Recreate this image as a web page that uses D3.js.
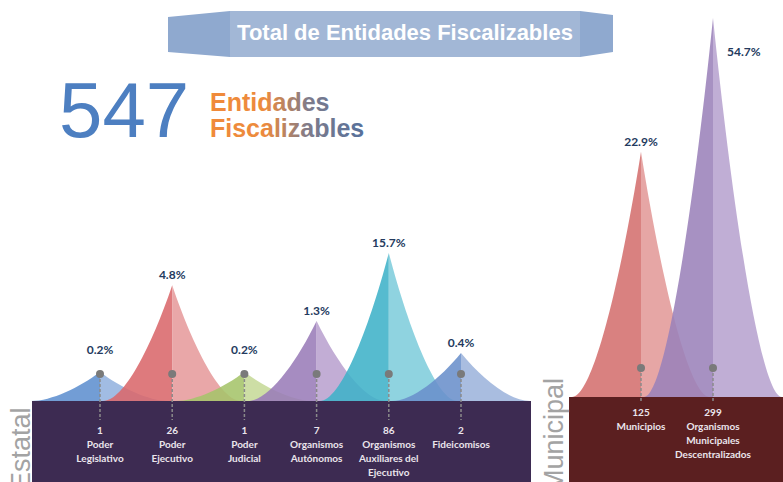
<!DOCTYPE html>
<html>
<head>
<meta charset="utf-8">
<title>Total de Entidades Fiscalizables</title>
<script src="https://d3js.org/d3.v7.min.js"></script>
<style>
  body { margin: 0; padding: 0; background: #fff; overflow: hidden; }
  svg { display: block; }
</style>
</head>
<body>
<script>
// data
var total = 547;

var estatalNames = [
  ["Poder", "Legislativo"],
  ["Poder", "Ejecutivo"],
  ["Poder", "Judicial"],
  ["Organismos", "Autónomos"],
  ["Organismos", "Auxiliares del", "Ejecutivo"],
  ["Fideicomisos"]
];
var estatalCounts = [1, 26, 1, 7, 86, 2];
var estatalPct = [0.2, 4.8, 0.2, 1.3, 15.7, 0.4];

var municipalNames = [
  ["Municipios"],
  ["Organismos", "Municipales", "Descentralizados"]
];
var municipalCounts = [125, 299];
var municipalPct = [22.9, 54.7];

var estatalColors = [
  ["#5f8fcf", "#94b3df"],
  ["#d9686b", "#e69b9c"],
  ["#a5c46a", "#c6da99"],
  ["#9a7cb8", "#b9a2cf"],
  ["#3fb2c8", "#80cddc"],
  ["#6a8fcb", "#9db4dc"]
];
var municipalColors = [
  ["#d4706e", "#e39a98"],
  ["#9b82b9", "#b7a3cf"]
];

var width = 783, height = 482;

var svg = d3.select("body").append("svg")
  .attr("width", width)
  .attr("height", height);

var defs = svg.append("defs");
var grad = defs.append("linearGradient")
  .attr("id", "txtGrad")
  .attr("gradientUnits", "userSpaceOnUse")
  .attr("x1", 211).attr("x2", 375).attr("y1", 0).attr("y2", 0);
grad.append("stop").attr("offset", 0).attr("stop-color", "#f08a3a");
grad.append("stop").attr("offset", 0.33).attr("stop-color", "#ec8a3e");
grad.append("stop").attr("offset", 0.6).attr("stop-color", "#7d7b8c");
grad.append("stop").attr("offset", 1).attr("stop-color", "#4f6e9e");

// title banner
var banner = svg.append("g");
banner.append("path")
  .attr("d", "M168,17 L230,11 L230,57 L168,52 Z")
  .attr("fill", "#8fa9cf");
banner.append("path")
  .attr("d", "M580,11 L613,15 L613,52 L580,57 Z")
  .attr("fill", "#8fa9cf");
banner.append("rect")
  .attr("x", 230).attr("y", 11).attr("width", 350).attr("height", 46)
  .attr("fill", "#a2b7d6");
banner.append("text")
  .attr("x", 405).attr("y", 40)
  .attr("text-anchor", "middle")
  .attr("font-family", "Liberation Sans, Arial, sans-serif")
  .attr("font-weight", "bold")
  .attr("font-size", 22)
  .attr("fill", "#fff")
  .text("Total de Entidades Fiscalizables");

// big total
svg.append("text")
  .attr("x", 59).attr("y", 137)
  .attr("font-family", "Liberation Sans, Arial, sans-serif")
  .attr("font-size", 78)
  .attr("fill", "#4d7fc1")
  .text(total);
["Entidades", "Fiscalizables"].forEach(function (t, i) {
  svg.append("text")
    .attr("x", 210)
    .attr("y", 111 + i * 26)
    .attr("font-family", "Liberation Sans, Arial, sans-serif")
    .attr("font-weight", "bold")
    .attr("font-size", 25)
    .attr("fill", "url(#txtGrad)")
    .text(t);
});

// boxes
var estBase = 401, munBase = 397;
svg.append("rect")
  .attr("x", 32).attr("y", estBase).attr("width", 499).attr("height", height - estBase)
  .attr("fill", "#3d2b52");
svg.append("rect")
  .attr("x", 569).attr("y", munBase).attr("width", width - 569).attr("height", height - munBase)
  .attr("fill", "#5b1f20");

function sideLabel(txt, x, yStart) {
  svg.append("text")
    .attr("transform", "translate(" + x + "," + yStart + ") rotate(-90)")
    .attr("font-family", "Liberation Sans, Arial, sans-serif")
    .attr("font-size", 27)
    .attr("fill", "#a3a3a3")
    .text(txt);
}
sideLabel("Estatal", 30, 490);
sideLabel("Municipal", 563, 492);

// scales
var xEst = d3.scalePoint().domain(d3.range(estatalPct.length)).range([100, 461]);
var yEst = d3.scaleLog().domain([0.2, 15.7]).range([estBase - 29, estBase - 148]);
var xMun = d3.scalePoint().domain(d3.range(municipalPct.length)).range([641, 713]);
var yMun = d3.scaleSqrt().domain([0, 54.7]).range([munBase, 18]);

var halfW = 69;

function halfPeak(cx, top, base, side) {
  var w = halfW * side, h = base - top;
  var p = d3.path();
  p.moveTo(cx - w, base);
  p.bezierCurveTo(cx - 0.7 * w, base, cx - 0.3 * w, base - 0.47 * h, cx, top);
  p.lineTo(cx, base);
  p.closePath();
  return p.toString();
}

function drawPanel(pcts, counts, names, colors, x, y, base, dotY, lineEnd, labelY0) {
  var g = svg.append("g");
  pcts.forEach(function (v, i) {
    var cx = x(i), top = y(v);
    g.append("path").attr("d", halfPeak(cx, top, base, 1))
      .attr("fill", colors[i][0]).attr("fill-opacity", 0.88);
    g.append("path").attr("d", halfPeak(cx, top, base, -1))
      .attr("fill", colors[i][1]).attr("fill-opacity", 0.88);
  });
  pcts.forEach(function (v, i) {
    var cx = x(i), top = y(v);
    g.append("line")
      .attr("x1", cx).attr("x2", cx).attr("y1", dotY).attr("y2", lineEnd)
      .attr("stroke", "#8a8a8a").attr("stroke-width", 1.5)
      .attr("stroke-dasharray", "3,2");
    g.append("circle").attr("cx", cx).attr("cy", dotY).attr("r", 4)
      .attr("fill", "#7a7a7a");

    var lbl = g.append("text")
      .attr("font-family", "Lato, sans-serif")
      .attr("font-weight", "bold")
      .attr("font-size", 12)
      .attr("fill", "#243a5e")
      .text(v.toFixed(1) + "%");
    if (top < 40) {
      lbl.attr("x", cx + 14).attr("y", top + 38).attr("text-anchor", "start");
    } else {
      lbl.attr("x", cx).attr("y", Math.min(top - 6, dotY - 20)).attr("text-anchor", "middle");
    }

    var lines = [String(counts[i])].concat(names[i]);
    g.append("text")
      .attr("font-family", "Lato, sans-serif")
      .attr("font-weight", "bold")
      .attr("font-size", 10)
      .attr("fill", "#ebe5ec")
      .attr("text-anchor", "middle")
      .selectAll("tspan")
      .data(lines)
      .join("tspan")
      .attr("x", cx)
      .attr("y", (d, j) => labelY0 + j * 14)
      .text(d => d);
  });
}

drawPanel(estatalPct, estatalCounts, estatalNames, estatalColors, xEst, yEst, estBase, 374, 420, 434);
drawPanel(municipalPct, municipalCounts, municipalNames, municipalColors, xMun, yMun, munBase, 368, 401, 416);
</script>
</body>
</html>
